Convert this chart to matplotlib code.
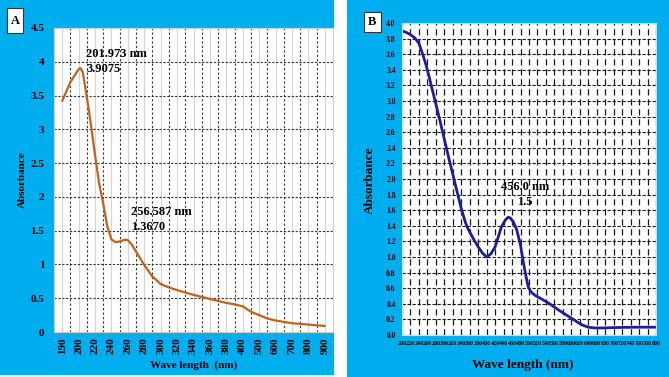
import numpy as np
import matplotlib
matplotlib.use("Agg")
import matplotlib.pyplot as plt
from matplotlib.patches import Rectangle
from matplotlib.ticker import FixedLocator, NullFormatter

plt.rcParams['font.family'] = ['Liberation Serif', 'DejaVu Serif']
plt.rcParams['font.weight'] = 'bold'

# ---------------- data ----------------
# Panel A: categorical wavelength axis
a_categories = [190, 200, 220, 240, 260, 280, 300, 320, 340, 360, 380, 400,
                500, 600, 700, 800, 900]
a_wavelength = [190, 195, 200, 202, 205, 210, 215, 220, 225, 230, 235, 240,
                245, 250, 256.6, 260, 265, 270, 280, 290, 300, 310, 320,
                340, 360, 380, 390, 400, 450, 500, 550, 600, 700, 800, 900]
a_absorbance = [3.42, 3.70, 3.89, 3.907, 3.85, 3.48, 3.07, 2.62, 2.20, 1.90,
                1.56, 1.37, 1.33, 1.34, 1.367, 1.36, 1.29, 1.19, 0.99, 0.82,
                0.71, 0.66, 0.62, 0.55, 0.49, 0.43, 0.41, 0.38, 0.30, 0.25,
                0.20, 0.17, 0.13, 0.11, 0.09]
a_yticks = [0, 0.5, 1, 1.5, 2, 2.5, 3, 3.5, 4, 4.5]
a_ytick_labels = ['0', '0.5', '1', '1.5', '2', '2.5', '3', '3.5', '4', '4.5']
a_peak1 = "201.973 nm\n3.9075"
a_peak2 = "256.587 nm\n1.3670"

# Panel B: linear wavelength axis
b_wavelength = [200, 210, 220, 230, 240, 250, 258, 270, 280, 290, 300, 310,
                320, 330, 340, 350, 357, 370, 380, 390, 400, 410, 420, 435,
                445, 451, 456, 463, 471, 480, 487, 493, 498, 505, 514, 530,
                546, 570, 593, 610, 625, 640, 656, 672, 700, 750, 800]
b_absorbance = [3.90, 3.88, 3.85, 3.81, 3.74, 3.58, 3.44, 3.18, 2.96, 2.74,
                2.51, 2.28, 2.06, 1.84, 1.62, 1.44, 1.35, 1.22, 1.13, 1.05,
                1.00, 1.04, 1.13, 1.39, 1.48, 1.51, 1.50, 1.45, 1.35, 1.15,
                0.92, 0.75, 0.62, 0.55, 0.51, 0.46, 0.41, 0.32, 0.24, 0.18,
                0.13, 0.10, 0.09, 0.09, 0.095, 0.10, 0.10]
b_xticks = list(range(200, 801, 20))
b_yticks = [round(0.2 * i, 1) for i in range(21)]
b_peak = "456.0 nm\n1.5"

# ---------------- figure ----------------
W, H = 669, 377
fig = plt.figure(figsize=(W / 100, H / 100), dpi=100)
fig.patch.set_facecolor('white')

BLUE = '#00AEEF'


def px_rect(x0, y0, x1, y1, **kw):
    fig.add_artist(Rectangle((x0 / W, 1 - y1 / H), (x1 - x0) / W, (y1 - y0) / H,
                             transform=fig.transFigure, **kw))


px_rect(0, 0, 334, 375, facecolor=BLUE, edgecolor='none', zorder=0)
px_rect(347, 0, 669, 377, facecolor=BLUE, edgecolor='none', zorder=0)


def ax_at(x0, y0, x1, y1):
    return fig.add_axes([x0 / W, 1 - y1 / H, (x1 - x0) / W, (y1 - y0) / H])


# ---------------- panel A ----------------
cats = np.array(a_categories, float)
idx = np.arange(len(cats), dtype=float)
ext_nm = np.concatenate([[cats[0] - (cats[1] - cats[0])], cats,
                         [cats[-1] + (cats[-1] - cats[-2])]])
ext_idx = np.concatenate([[-1.0], idx, [len(cats)]])


def fwd(x):
    return np.interp(np.asarray(x, float), ext_nm, ext_idx)


def inv(i):
    return np.interp(np.asarray(i, float), ext_idx, ext_nm)


axA = ax_at(54, 28, 333, 332)
axA.set_xscale('function', functions=(fwd, inv))
axA.set_xlim(inv(-0.5), inv(len(cats) - 0.5))
axA.set_ylim(0, 4.5)
axA.xaxis.set_major_locator(FixedLocator(a_categories))
axA.set_xticklabels([str(c) for c in a_categories], rotation=90,
                    fontsize=8, fontweight='bold')
axA.xaxis.set_minor_locator(FixedLocator(inv(np.arange(0.5, len(cats) - 0.5, 1.0))))
axA.xaxis.set_minor_formatter(NullFormatter())
axA.set_yticks(a_yticks)
axA.set_yticklabels(a_ytick_labels, fontsize=8, fontweight='bold')
axA.tick_params(axis='both', which='both', length=0)
axA.tick_params(axis='x', pad=4)
axA.tick_params(axis='y', pad=7)
axA.grid(True, axis='x', which='major', color='#d4d4d4', lw=0.8, ls='-')
axA.grid(True, axis='x', which='minor', color='#333333', lw=0.8, ls=(0, (2, 2)))
axA.grid(True, axis='y', which='major', color='#333333', lw=0.8, ls=(0, (2, 1.5)))
axA.set_axisbelow(True)
for s in axA.spines.values():
    s.set_color('#cfcfcf')
    s.set_linewidth(0.8)
axA.plot(a_wavelength, a_absorbance, color='#C2611C', lw=1.6,
         solid_capstyle='round', solid_joinstyle='round')
axA.text(0.1147, 0.933, a_peak1, transform=axA.transAxes, ha='left', va='top',
         fontsize=9, fontweight='bold', linespacing=1.25)
axA.text(0.276, 0.413, a_peak2, transform=axA.transAxes, ha='left', va='top',
         fontsize=9, fontweight='bold', linespacing=1.25)

fig.text(193.5 / W, 1 - 365 / H, 'Wave length  (nm)', ha='center', va='center',
         fontsize=8, fontweight='bold')
fig.text(22 / W, 1 - 180 / H, 'Absorbance', ha='center', va='center',
         rotation=90, fontsize=8, fontweight='bold')

px_rect(7, 8, 23, 33, facecolor='white', edgecolor='#333333', lw=0.8, zorder=5)
fig.text(15 / W, 1 - 20.5 / H, 'A', ha='center', va='center', fontsize=9,
         fontweight='bold', zorder=6)

# ---------------- panel B ----------------
axB = ax_at(402, 23, 656, 335)
axB.set_xlim(200, 800)
axB.set_ylim(0, 4.0)
axB.set_xticks(b_xticks)
axB.set_xticklabels([str(t) for t in b_xticks], fontsize=4.3, fontweight='bold')
axB.set_yticks(b_yticks)
axB.set_yticklabels([f'{v:.1f}' for v in b_yticks], fontsize=5.5,
                    fontweight='bold')
axB.tick_params(axis='both', which='both', length=0)
axB.tick_params(axis='x', pad=4)
axB.tick_params(axis='y', pad=4.5)
axB.grid(True, axis='x', color='#1a1a1a', lw=0.9, ls=(0, (5, 3)))
axB.grid(True, axis='y', color='#1a1a1a', lw=0.8, ls=(0, (3, 1.5)))
axB.set_axisbelow(True)
for s in axB.spines.values():
    s.set_color('#d8d8d8')
    s.set_linewidth(0.8)
axB.plot(b_wavelength, b_absorbance, color='#1E1E96', lw=2.0,
         solid_capstyle='round', solid_joinstyle='round')
axB.text(0.484, 0.449, b_peak, transform=axB.transAxes, ha='center',
         va='center', multialignment='center', fontsize=9, fontweight='bold',
         linespacing=1.35)

fig.text(523 / W, 1 - 365 / H, 'Wave length (nm)', ha='center', va='center',
         fontsize=9.5, fontweight='bold')
fig.text(370 / W, 1 - 180 / H, 'Absorbance', ha='center', va='center',
         rotation=90, fontsize=9.5, fontweight='bold')

px_rect(364, 12, 381, 32, facecolor='white', edgecolor='#333333', lw=0.8, zorder=5)
fig.text(372.5 / W, 1 - 22 / H, 'B', ha='center', va='center', fontsize=9,
         fontweight='bold', zorder=6)

fig.savefig('out.png', dpi=100, facecolor=fig.get_facecolor())
